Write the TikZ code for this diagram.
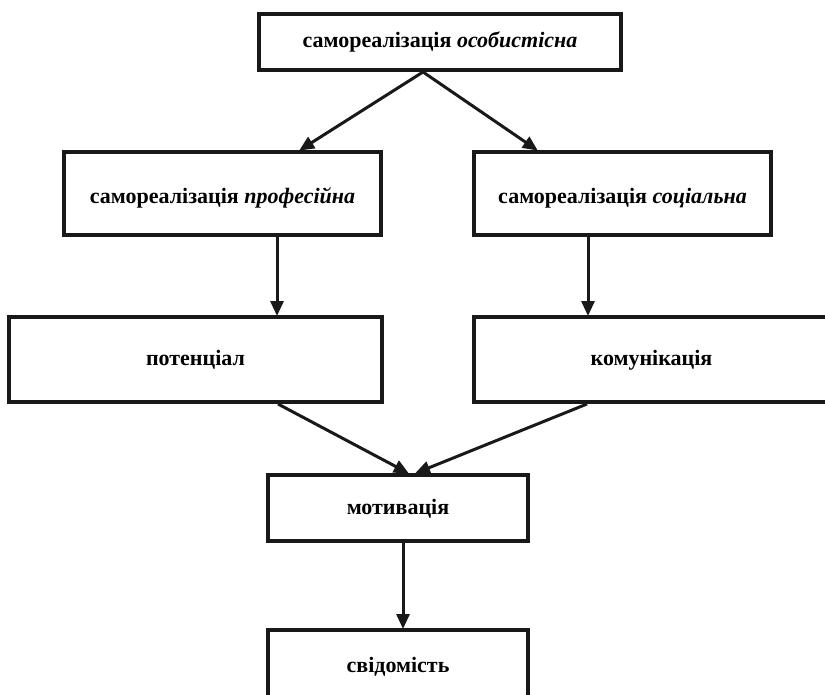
\documentclass[tikz,border=0pt]{standalone}
\usepackage{fontspec}
\setmainfont{Liberation Serif}
\usetikzlibrary{arrows.meta}
\tikzset{
  box/.style={draw=black!90, line width=4pt, inner sep=0pt, text height=15pt, text depth=3pt, font=\fontsize{22}{26}\selectfont\bfseries},
  lowtext/.style={text height=20pt, text depth=0pt},
  arr/.style={line width=3pt, draw=black!90, -{Triangle[length=15pt,width=13pt]}, shorten >=-1pt}
}
\begin{document}
\begin{tikzpicture}[x=1pt,y=-1pt]
\useasboundingbox (0,0) rectangle (825,695);
\node[box, minimum width=362pt, minimum height=56pt] (top) at (440,42) {самореалізація \textit{особистісна}};
\node[box, lowtext, minimum width=317pt, minimum height=83pt] (prof) at (222.5,193.5) {самореалізація \textit{професійна}};
\node[box, lowtext, minimum width=297pt, minimum height=83pt] (soc) at (622.5,193.5) {самореалізація \textit{соціальна}};
\node[box, minimum width=373pt, minimum height=85pt] (pot) at (195.5,359.5) {потенціал};
\node[box, minimum width=355pt, minimum height=85pt] (kom) at (651.5,359.5) {комунікація};
\node[box, minimum width=260pt, minimum height=66pt] (mot) at (398,508) {мотивація};
\node[box, minimum width=260pt, minimum height=72pt] (svid) at (398,666) {свідомість};
\draw[arr] ([xshift=-17pt]top.south) -- ([xshift=77.5pt]prof.north);
\draw[arr] ([xshift=-17pt]top.south) -- ([xshift=-85.5pt]soc.north);
\draw[arr] ([xshift=54.5pt]prof.south) -- ([xshift=81.5pt]pot.north);
\draw[arr] ([xshift=-34.5pt]soc.south) -- ([xshift=-63.5pt]kom.north);
\draw[arr] ([xshift=82.5pt]pot.south) -- ([xshift=10pt]mot.north);
\draw[arr] ([xshift=-64.5pt]kom.south) -- ([xshift=18pt]mot.north);
\draw[arr] ([xshift=5pt]mot.south) -- ([xshift=5pt]svid.north);
\end{tikzpicture}
\end{document}
